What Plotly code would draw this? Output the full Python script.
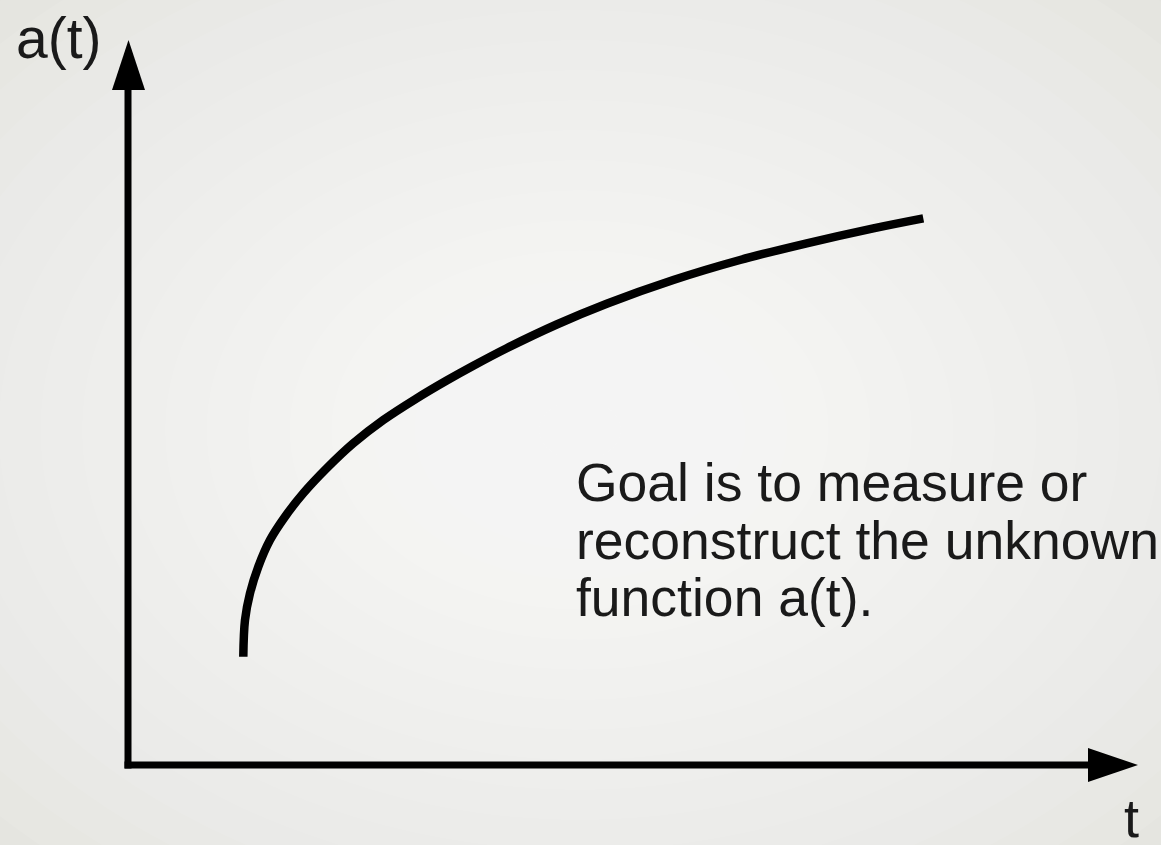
import plotly.graph_objects as go

# ---- data (t in data units, a in data units) ----
t_values = [1.153, 1.17, 1.22, 1.303, 1.42, 1.57, 1.753, 1.987, 2.253, 2.553, 2.887,
            3.187, 3.453, 3.787, 4.287, 4.787, 5.453, 6.12, 6.787, 7.453, 7.953]
a_values = [1.083, 1.45, 1.717, 1.983, 2.25, 2.483, 2.717, 2.967, 3.217, 3.45, 3.667,
            3.845, 3.993, 4.168, 4.405, 4.613, 4.85, 5.05, 5.217, 5.367, 5.467]

y_label = "a(t)"
x_label = "t"
note_lines = ["Goal is to measure or", "reconstruct the unknown", "function a(t)."]

W, H = 1161, 845
X0, Y0, S = 128, 765, 100.0  # pixel of origin, pixels per unit


def px(x):
    return (x - X0) / S


def py(y):
    return (Y0 - y) / S


fig = go.Figure()
fig.add_trace(go.Scatter(x=t_values, y=a_values, mode="lines",
                         line=dict(color="black", width=8.5, shape="spline", smoothing=1.0),
                         hoverinfo="skip", showlegend=False))

shapes = []
# radial background glow
N = 20
cx, cy = 580, 430
for i in range(N):
    f = 1 - i / N
    rx, ry = 830 * f, 600 * f
    shapes.append(dict(type="circle", xref="x", yref="y", layer="below",
                       x0=px(cx - rx), x1=px(cx + rx), y0=py(cy + ry), y1=py(cy - ry),
                       fillcolor="white", opacity=0.078, line=dict(width=0)))

# axes lines
shapes.append(dict(type="line", xref="x", yref="y", x0=px(128), x1=px(128), y0=py(768.5), y1=py(88),
                   line=dict(color="black", width=7)))
shapes.append(dict(type="line", xref="x", yref="y", x0=px(124.5), x1=px(1090), y0=py(765), y1=py(765),
                   line=dict(color="black", width=7)))
# arrow heads
shapes.append(dict(type="path", xref="x", yref="y",
                   path=f"M {px(112)} {py(90)} L {px(145)} {py(90)} L {px(128.5)} {py(40)} Z",
                   fillcolor="black", line=dict(width=0)))
shapes.append(dict(type="path", xref="x", yref="y",
                   path=f"M {px(1088)} {py(748)} L {px(1088)} {py(782)} L {px(1138)} {py(765)} Z",
                   fillcolor="black", line=dict(width=0)))

font = dict(family="Liberation Sans, Arial, sans-serif", color="#1a1a1a")
annotations = [
    dict(x=px(14), y=py(38), xref="x", yref="y", text=y_label, showarrow=False,
         xanchor="left", yanchor="middle", font=dict(size=57, **font)),
    dict(x=px(1131), y=py(818), xref="x", yref="y", text=x_label, showarrow=False,
         xanchor="center", yanchor="middle", font=dict(size=54, **font)),
]
baselines = [500, 558, 615]
for line, b in zip(note_lines, baselines):
    annotations.append(dict(x=px(574), y=py(b - 18), xref="x", yref="y", text=line, showarrow=False,
                            xanchor="left", yanchor="middle", font=dict(size=53.5, **font)))

fig.update_layout(
    width=W, height=H, autosize=False,
    margin=dict(l=0, r=0, t=0, b=0, pad=0),
    paper_bgcolor="#e3e3de", plot_bgcolor="#e3e3de",
    xaxis=dict(range=[px(0), px(W)], visible=False, fixedrange=True),
    yaxis=dict(range=[py(H), py(0)], visible=False, fixedrange=True),
    shapes=shapes, annotations=annotations, showlegend=False,
)

fig.write_html("out.html", config={"displayModeBar": False},
               post_script="document.body.style.margin='0';")
